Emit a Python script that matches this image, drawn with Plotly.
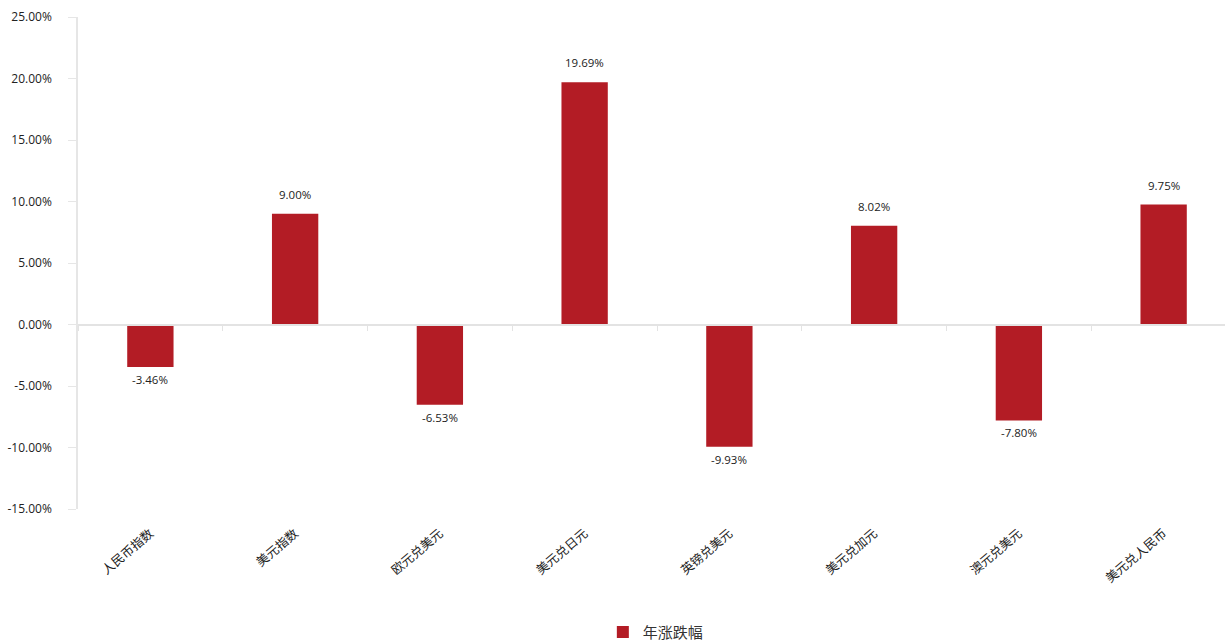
import plotly.graph_objects as go

categories = ["人民币指数", "美元指数", "欧元兑美元", "美元兑日元", "英镑兑美元", "美元兑加元", "澳元兑美元", "美元兑人民币"]
values = [-3.46, 9.00, -6.53, 19.69, -9.93, 8.02, -7.80, 9.75]
series_name = "年涨跌幅"
y_ticks = [-15, -10, -5, 0, 5, 10, 15, 20, 25]

FONT = "Open Sans, Noto Sans CJK SC, sans-serif"
BAR = "#b31c25"
YMIN, YMAX = -15, 25

fig = go.Figure()
fig.add_trace(go.Bar(
    x=categories, y=values, name=series_name,
    marker=dict(color=BAR, line=dict(width=0)),
    width=0.32,
    showlegend=True,
    hovertemplate="%{x}: %{y:.2f}%<extra></extra>",
))
# invisible trace on the overlay axis so the zero-line axis is drawn
fig.add_trace(go.Bar(x=categories, y=[0]*len(categories), xaxis="x2",
                     marker=dict(color="rgba(0,0,0,0)"), showlegend=False, hoverinfo="skip"))

for c, v in zip(categories, values):
    fig.add_annotation(
        x=c, y=v, text=f"{v:.2f}%", showarrow=False,
        yanchor="bottom" if v >= 0 else "top",
        yshift=10 if v >= 0 else -3,
        font=dict(size=11.5, color="#222222", family=FONT),
    )

fig.update_layout(
    width=1236, height=641,
    margin=dict(l=78, r=0, t=17, b=132, autoexpand=False),
    paper_bgcolor="white", plot_bgcolor="white",
    font=dict(family=FONT, color="#222222"),
    barmode="overlay",
    bargap=0.68,
    showlegend=True,
    legend=dict(orientation="h", x=0.499, xanchor="center", y=-0.217, yanchor="top",
                font=dict(size=15, color="#333333"), itemwidth=30),
    xaxis=dict(
        type="category", categoryorder="array", categoryarray=categories,
        showline=False, ticks="", showgrid=False, zeroline=False, automargin=False,
        tickangle=-40, tickfont=dict(size=12.5, color="#222222"),
        ticklabelstandoff=14,
    ),
    xaxis2=dict(
        type="category", categoryorder="array", categoryarray=categories,
        overlaying="x", anchor="free", position=(0 - YMIN) / (YMAX - YMIN),
        showline=True, linecolor="#e3e3e3", linewidth=1.5,
        ticks="outside", tickson="boundaries", ticklen=6, tickcolor="#e3e3e3",
        showticklabels=False, showgrid=False, zeroline=False, automargin=False,
    ),
    yaxis=dict(
        range=[YMIN, YMAX], tickvals=y_ticks,
        ticktext=[f"{v:.2f}%" for v in y_ticks],
        showline=True, linecolor="#e6e6e6", linewidth=1.5,
        ticks="outside", ticklen=8, tickcolor="#e6e6e6",
        showgrid=False, zeroline=False, automargin=False,
        tickfont=dict(size=12, color="#222222"),
        ticklabelstandoff=14,
    ),
)

fig.write_html(
    "out.html",
    config={"displayModeBar": False},
    post_script="document.body.style.margin='0px';document.body.style.overflow='hidden';",
)
